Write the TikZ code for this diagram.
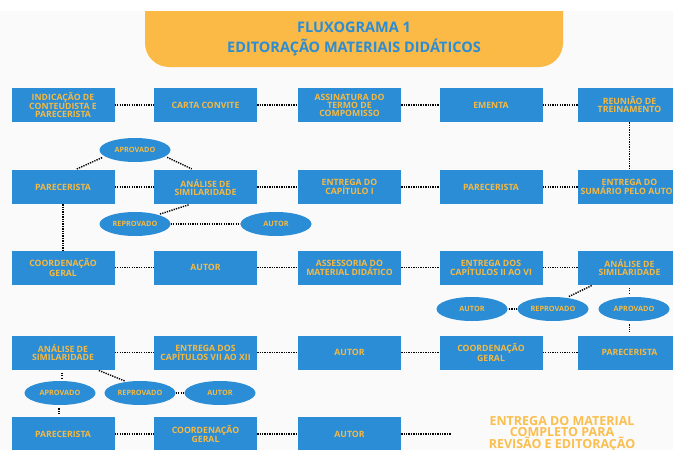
\documentclass[tikz,border=0pt]{standalone}
\usepackage{fontspec}
\setmainfont{Open Sans}
\usetikzlibrary{shapes.geometric}
\definecolor{boxblue}{HTML}{2B8DD6}
\definecolor{txtyel}{HTML}{F4B943}
\definecolor{bannerorg}{HTML}{FBB945}
\definecolor{endtxt}{HTML}{FBBF4F}
\definecolor{bgc}{HTML}{FAFAFA}
\begin{document}
\begin{tikzpicture}[x=1pt,y=-1pt,
  stepbox/.style={fill=boxblue, minimum width=103pt, minimum height=34pt, inner sep=0pt,
    text=txtyel, font=\bfseries\fontsize{8.7}{8}\selectfont, align=center},
  oval/.style={ellipse, fill=boxblue, minimum width=71pt, minimum height=24pt, inner sep=0pt,
    text=txtyel, font=\bfseries\fontsize{7.3}{8}\selectfont},
  conn/.style={draw=black, line width=1.4pt, dash pattern=on 1.3pt off 1.1pt},
  titletxt/.style={text=boxblue, font=\bfseries\fontsize{14.5}{16}\selectfont, anchor=base, inner sep=0pt},
  endtext/.style={text=endtxt, font=\bfseries\fontsize{12.5}{12}\selectfont, anchor=base, inner sep=0pt}]
\useasboundingbox (0,0) rectangle (673,450);
\fill[white] (0,0) rectangle (673,450);
\fill[bgc] (0,11) rectangle (673,450);
% banner
\fill[bannerorg] (145,11) [rounded corners=24pt] -- (145,67) -- (563,67) [sharp corners] -- (563,11) -- cycle;
\node[titletxt] (t1) at (354,32) {FLUXOGRAMA 1};
\node[titletxt] (t2) at (354,52) {EDITORAÇÃO MATERIAIS DIDÁTICOS};
% row 1
\node[stepbox] (b11) at (63,105) {INDICAÇÃO DE\\CONTEUDISTA E\\PARECERISTA};
\node[stepbox] (b12) at (205.5,105) {CARTA CONVITE};
\node[stepbox] (b13) at (349.5,105) {ASSINATURA DO\\TERMO DE\\COMPOMISSO};
\node[stepbox] (b14) at (491,105) {EMENTA};
\node[stepbox] (b15) at (629.5,105) {REUNIÃO DE\\TREINAMENTO};
% row 2
\node[stepbox] (b21) at (63,187) {PARECERISTA};
\node[stepbox] (b22) at (205.5,187) {ANÁLISE DE\\SIMILARIDADE};
\node[stepbox] (b23) at (349.5,187) {ENTREGA DO\\CAPÍTULO I};
\node[stepbox] (b24) at (491,187) {PARECERISTA};
\node[stepbox] (b25) at (629.5,187) {ENTREGA DO\\SUMÁRIO PELO AUTOR};
% row 3
\node[stepbox] (b31) at (63,267.5) {COORDENAÇÃO\\GERAL};
\node[stepbox] (b32) at (205.5,267.5) {AUTOR};
\node[stepbox] (b33) at (349.5,267.5) {ASSESSORIA DO\\MATERIAL DIDÁTICO};
\node[stepbox] (b34) at (491,267.5) {ENTREGA DOS\\CAPÍTULOS II AO VI};
\node[stepbox] (b35) at (629.5,267.5) {ANÁLISE DE\\SIMILARIDADE};
% row 4
\node[stepbox] (b41) at (63,352.5) {ANÁLISE DE\\SIMILARIDADE};
\node[stepbox] (b42) at (205.5,352.5) {ENTREGA DOS\\CAPÍTULOS VII AO XII};
\node[stepbox] (b43) at (349.5,352.5) {AUTOR};
\node[stepbox] (b44) at (491,352.5) {COORDENAÇÃO\\GERAL};
\node[stepbox] (b45) at (629.5,352.5) {PARECERISTA};
% row 5
\node[stepbox] (b51) at (63,434) {PARECERISTA};
\node[stepbox] (b52) at (205.5,434) {COORDENAÇÃO\\GERAL};
\node[stepbox] (b53) at (349.5,434) {AUTOR};
% ovals
\node[oval] (apr1) at (135,150) {APROVADO};
\node[oval] (rep1) at (135,224) {REPROVADO};
\node[oval] (aut1) at (276,224) {AUTOR};
\node[oval] (aut2) at (472,309) {AUTOR};
\node[oval] (rep2) at (553,309) {REPROVADO};
\node[oval] (apr2) at (634,309) {APROVADO};
\node[oval] (apr3) at (60,393) {APROVADO};
\node[oval] (rep3) at (140,393) {REPROVADO};
\node[oval] (aut3) at (220,393) {AUTOR};
% end text
\node[endtext] (e1) at (562,425) {ENTREGA DO MATERIAL};
\node[endtext] (e2) at (562,436.7) {COMPLETO PARA};
\node[endtext] (e3) at (562,448.4) {REVISÃO E EDITORAÇÃO};
\coordinate (endpt) at (451,434);
% horizontal connectors
\foreach \r in {1,2,3,4}{
  \draw[conn] (b\r1.east) -- (b\r2.west);
  \draw[conn] (b\r2.east) -- (b\r3.west);
  \draw[conn] (b\r3.east) -- (b\r4.west);
  \draw[conn] (b\r4.east) -- (b\r5.west);
}
\draw[conn] (b51.east) -- (b52.west);
\draw[conn] (b52.east) -- (b53.west);
\draw[conn] (b53.east) -- (endpt);
% vertical connectors
\draw[conn] (b21.south) -- (b31.north);
\draw[conn] (b15.south) -- (b25.north);
% row 2 branch
\draw[conn, shorten <=2pt, shorten >=2pt] ([xshift=12pt]b21.north) -- (apr1.192);
\draw[conn, shorten <=2pt, shorten >=2pt] (apr1.-12) -- ([xshift=-12pt]b22.north);
\draw[conn, shorten <=2pt, shorten >=2pt] ([xshift=-15pt]b22.south) -- (rep1.22);
\draw[conn] (rep1.east) -- (aut1.west);
% row 3 branch
\draw[conn, shorten <=2pt, shorten >=2pt] ([xshift=-36pt]b35.south) -- (rep2.40);
\draw[conn] (rep2.west) -- (aut2.east);
\draw[conn, shorten <=3pt, shorten >=3pt] (b35.south) -- (b35.south |- apr2.north);
\draw[conn, shorten <=3pt, shorten >=3pt] (b45.north |- apr2.south) -- (b45.north);
% row 4 branch
\draw[conn, shorten <=3pt, shorten >=3pt] ([xshift=-1pt]b41.south) -- ([xshift=-1pt]b41.south |- apr3.north);
\draw[conn, shorten <=3pt, shorten >=3pt] ([xshift=-1pt]apr3.south) -- ([xshift=-1pt]apr3.south |- b51.north);
\draw[conn, shorten <=2pt, shorten >=2pt] ([xshift=34pt]b41.south) -- (rep3.140);
\draw[conn] (rep3.east) -- (aut3.west);
\end{tikzpicture}
\end{document}
